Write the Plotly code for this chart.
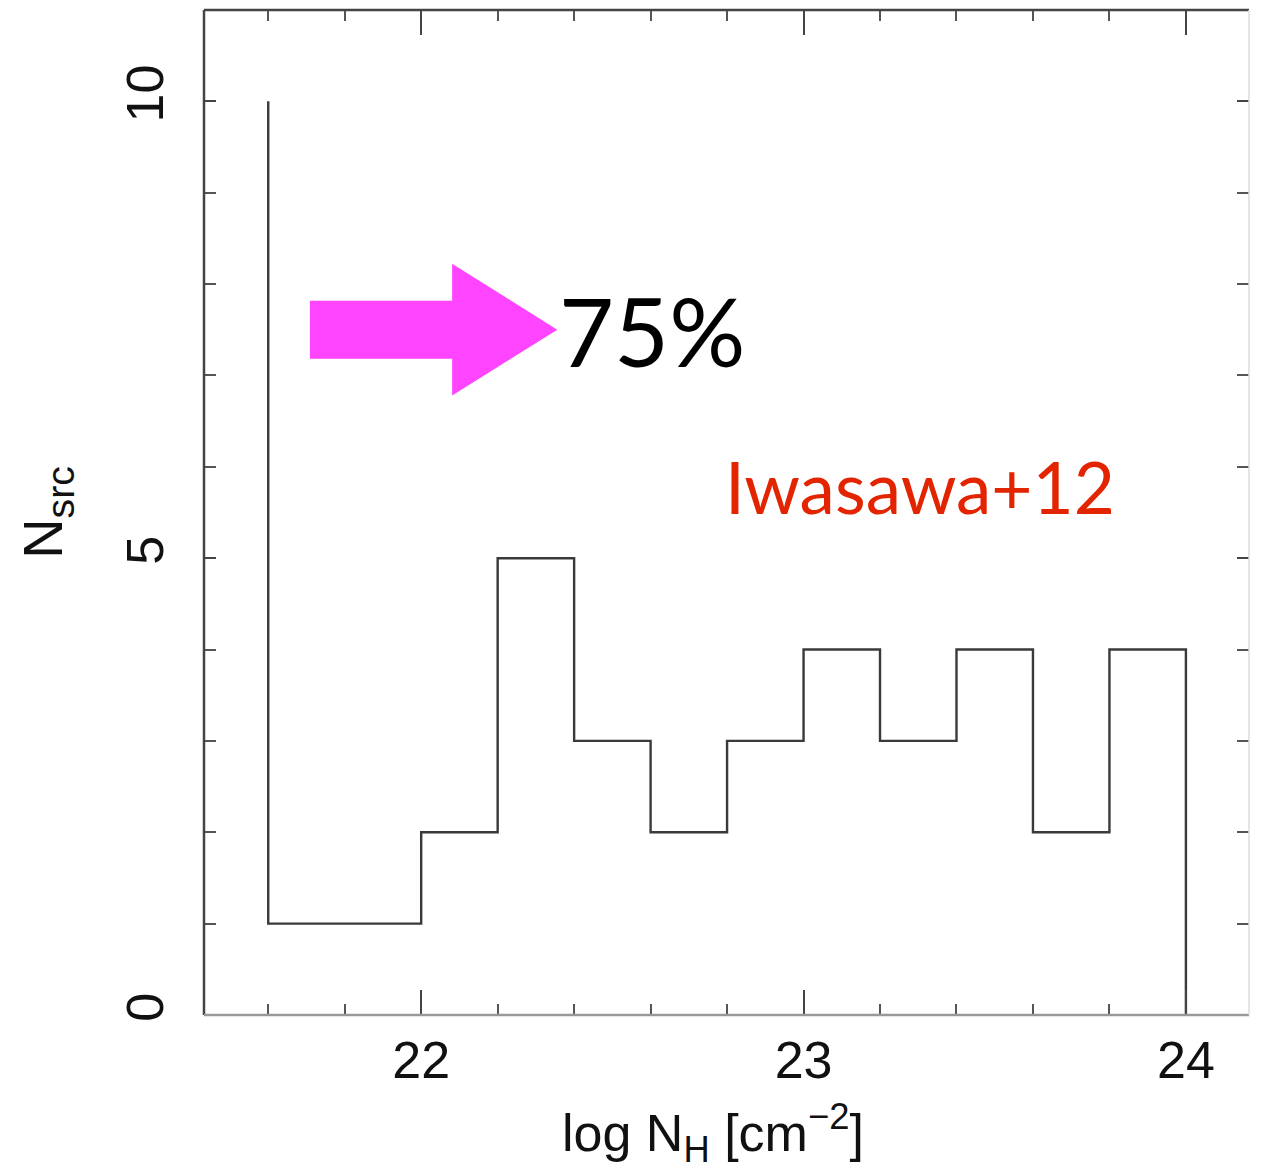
import plotly.graph_objects as go

# ---- data ----
bin_edges = [21.6, 21.8, 22.0, 22.2, 22.4, 22.6, 22.8, 23.0, 23.2, 23.4, 23.6, 23.8, 24.0]
counts = [1, 1, 2, 5, 3, 2, 3, 4, 3, 4, 2, 4]
low_edge_count = 10          # sources piled at the lower edge (21.6)
x_tickvals = [22, 23, 24]
y_tickvals = [0, 5, 10]
pct_label = "75%"
ref_label = "Iwasawa+12"
x_title = "log N<sub>H</sub> [cm<sup>−2</sup>]"
y_title = "N<sub>src</sub>"

x_range = [21.432, 24.165]
y_range = [0, 11]

# step outline
xs = [bin_edges[0]] + bin_edges
ys = [low_edge_count] + counts + [0]

fig = go.Figure()
fig.add_trace(go.Scatter(x=xs, y=ys, mode="lines", line_shape="hv",
                         line=dict(color="#3a3a3a", width=2.4),
                         hoverinfo="skip", showlegend=False))

tickfont = dict(family="Liberation Sans, Arial, sans-serif", size=52, color="#111")

fig.update_layout(
    width=1258, height=1163,
    margin=dict(l=196, r=17, t=2, b=156),
    paper_bgcolor="white", plot_bgcolor="white",
    showlegend=False,
    xaxis=dict(range=x_range, tickvals=x_tickvals, ticks="inside", ticklen=25,
               tickwidth=2, tickcolor="#444", mirror="ticks", showgrid=False,
               zeroline=False, showline=False, tickfont=tickfont,
               ticklabelstandoff=10, automargin=False,
               minor=dict(dtick=0.2, tick0=21.6, ticks="inside", ticklen=11,
                          tickwidth=2, tickcolor="#555", showgrid=False)),
    yaxis=dict(range=y_range, tickvals=y_tickvals, ticks="inside", ticklen=12,
               tickwidth=2, tickcolor="#444", mirror="ticks", showgrid=False,
               zeroline=False, showline=False, tickfont=tickfont, tickangle=-90,
               ticklabelstandoff=30, automargin=False,
               minor=dict(dtick=1, tick0=0, ticks="inside", ticklen=12,
                          tickwidth=2, tickcolor="#555", showgrid=False),
               title=dict(text=y_title,
                          font=dict(family="Liberation Sans, Arial, sans-serif", size=56, color="#111"),
                          standoff=34)),
)

# x axis title (placed slightly left of centre as in the reference)
fig.add_annotation(x=0.487, y=-0.117, xref="paper", yref="paper", text=x_title,
                   showarrow=False, xanchor="center", yanchor="middle",
                   font=dict(family="Liberation Sans, Arial, sans-serif", size=52, color="#111"))

# frame
frame = [
    dict(x0=0, x1=0, y0=0, y1=1, color="#444", w=2.5),
    dict(x0=0, x1=1, y0=1, y1=1, color="#444", w=2.5),
    dict(x0=0, x1=1, y0=0, y1=0, color="#999", w=2.5),
    dict(x0=1, x1=1, y0=0, y1=1, color="#ddd", w=1.5),
]
for f in frame:
    fig.add_shape(type="line", xref="x domain", yref="y domain",
                  x0=f["x0"], x1=f["x1"], y0=f["y0"], y1=f["y1"],
                  line=dict(color=f["color"], width=f["w"]))

# magenta arrow (decoration)
arrow_path = ("M 21.709 7.818 L 22.081 7.818 L 22.081 8.223 L 22.356 7.501 "
              "L 22.081 6.780 L 22.081 7.184 L 21.709 7.184 Z")
fig.add_shape(type="path", path=arrow_path, xref="x", yref="y",
              fillcolor="#ff44ff", line=dict(width=0))

fig.add_annotation(x=22.355, y=7.5, xref="x", yref="y", text=pct_label,
                   showarrow=False, xanchor="left", yanchor="middle",
                   font=dict(family="Lato, sans-serif", size=95, color="black"))
fig.add_annotation(x=22.79, y=5.78, xref="x", yref="y", text=ref_label,
                   showarrow=False, xanchor="left", yanchor="middle",
                   font=dict(family="Lato, sans-serif", size=71, color="#e32400"))

fig.write_html("out.html")
